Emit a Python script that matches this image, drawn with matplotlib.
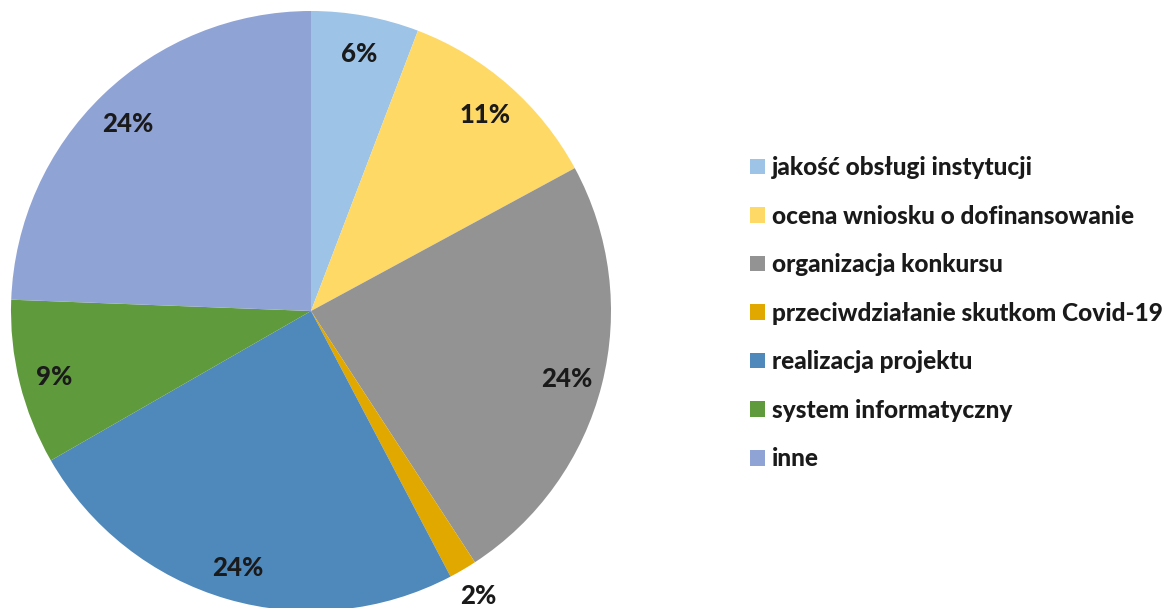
import matplotlib
matplotlib.use('Agg')
import matplotlib.pyplot as plt
import numpy as np

# udział kategorii
categories = ['jakość obsługi instytucji', 'ocena wniosku o dofinansowanie',
              'organizacja konkursu', 'przeciwdziałanie skutkom Covid-19',
              'realizacja projektu', 'system informatyczny', 'inne']
shares = [5.8, 11.3, 23.7, 1.5, 24.4, 8.9, 24.4]
pct_labels = ['6%', '11%', '24%', '2%', '24%', '9%', '24%']
colors = ['#9DC3E6', '#FFD966', '#939393', '#E1A800', '#4F88BB', '#5F9A3C', '#8FA3D5']

W, H = 1165, 608
fig = plt.figure(figsize=(W / 100, H / 100), dpi=100)
ax = fig.add_axes([0, 0, 1, 1])

cx, cy, r = 311, H - 311, 300
wedges, _ = ax.pie(shares, colors=colors, startangle=90, counterclock=False,
                   center=(cx, cy), radius=r,
                   wedgeprops=dict(linewidth=0))
ax.set_xlim(0, W)
ax.set_ylim(0, H)
ax.set_aspect('equal')
ax.axis('off')

font = dict(family=['Lato', 'DejaVu Sans'], weight='black')

for w, lab in zip(wedges, pct_labels):
    ang = np.deg2rad((w.theta1 + w.theta2) / 2)
    if (w.theta2 - w.theta1) > 10:
        d, off = 264, -3
    else:
        # mały wycinek - etykieta na zewnątrz
        d, off = 330, 0
    ax.text(cx + d * np.cos(ang), cy + d * np.sin(ang) + off, lab,
            ha='center', va='center', fontsize=18.5, color='#1a1a1a', **font)

leg = fig.legend(wedges, categories, loc='upper left',
                 bbox_to_anchor=(750 / W, 1 - 156 / H), frameon=False,
                 prop=dict(size=17.6, **font), handlelength=0.615, handleheight=0.615,
                 handletextpad=0.29, labelspacing=1.045, borderpad=0, borderaxespad=0)
for t in leg.get_texts():
    t.set_color('#1a1a1a')

fig.savefig('out.png', dpi=100)
